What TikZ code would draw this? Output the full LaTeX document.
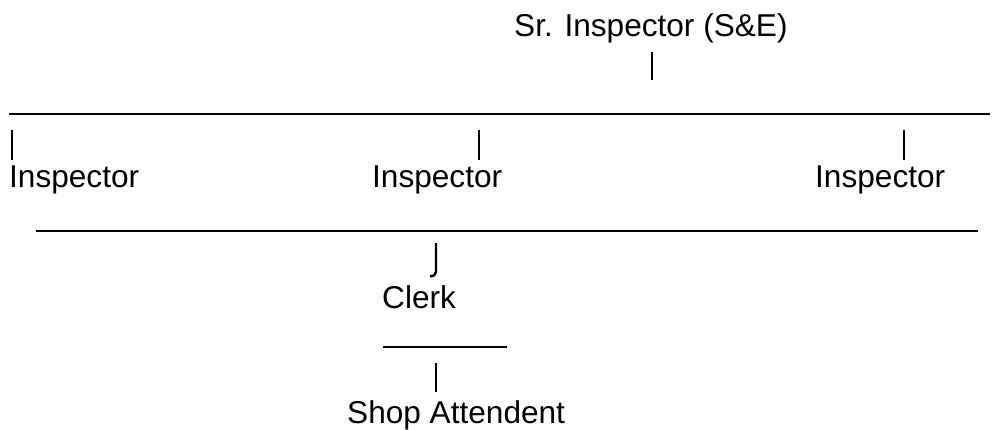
\documentclass[tikz,border=0pt]{standalone}
\usepackage{fontspec}
\setmainfont{Liberation Sans}
\usetikzlibrary{positioning}

\begin{document}
\begin{tikzpicture}[x=1pt,y=-1pt,
		lbl/.style={anchor=base west, inner sep=0pt, font=\fontsize{31.6}{38}\selectfont},
		bar/.style={black, line width=2.4pt},
		rule/.style={black, line width=1.5pt}]
			\useasboundingbox (0,0) rectangle (992,430);

			\node[lbl] (sr) at (514,37){Sr. Inspector (S\&E)};
			\coordinate (srtop) at (652,52);
			\coordinate (srbot) at (652,80);
			\draw[bar](srtop) -- (srbot);

			\coordinate (ra) at (9,114);
			\coordinate (rb) at (990,114);
			\draw[rule](ra) -- (rb);

			\coordinate (lt) at (12,130);
			\coordinate (lb) at (12,160);
			\coordinate (mt) at (479,130);
			\coordinate (mb) at (479,160);
			\coordinate (rt) at (904,130);
			\coordinate (rbb) at (904,160);
			\draw[bar](lt) -- (lb);
			\draw[bar](mt) -- (mb);
			\draw[bar](rt) -- (rbb);

			\node[lbl] (insl) at (9,188){Inspector};
			\node[lbl] (insm) at (372,188){Inspector};
			\node[lbl] (insr) at (815,188){Inspector};

			\coordinate (sa) at (36,231);
			\coordinate (sb) at (978,231);
			\draw[rule](sa) -- (sb);

			% hooked bar above Clerk
			\coordinate (jt) at (436,243);
			\coordinate (jh) at (430,276.5);
			\draw[bar](jt) -- (436,272) to[out=-90, in=0] (jh);
			\node[lbl] (clerk) at (382,308){Clerk};

			\coordinate (ta) at (383,347);
			\coordinate (tb) at (507,347);
			\draw[rule](ta) -- (tb);

			\coordinate (ct) at (436,363);
			\coordinate (cb) at (436,392);
			\draw[bar](ct) -- (cb);

			\node[lbl] (shop) at (347,423){Shop Attendent};
		\end{tikzpicture}
\end{document}
